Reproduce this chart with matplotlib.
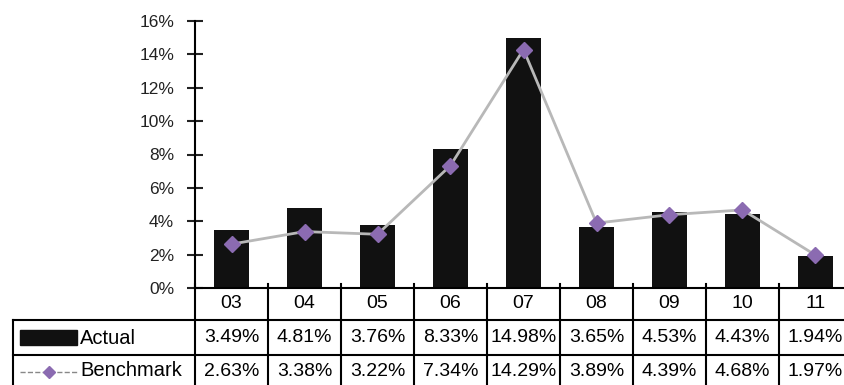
import matplotlib.pyplot as plt
import numpy as np
from matplotlib.lines import Line2D
from matplotlib.patches import Rectangle
from matplotlib.transforms import blended_transform_factory

years = ['03', '04', '05', '06', '07', '08', '09', '10', '11']
actual = [3.49, 4.81, 3.76, 8.33, 14.98, 3.65, 4.53, 4.43, 1.94]
benchmark = [2.63, 3.38, 3.22, 7.34, 14.29, 3.89, 4.39, 4.68, 1.97]
yticks = [0, 2, 4, 6, 8, 10, 12, 14, 16]

plt.rcParams['font.family'] = ['Liberation Sans', 'DejaVu Sans']

W, H = 844, 385


def fx(p):
    # pixel from left -> figure fraction
    return p / W


def fy(p):
    # pixel from top -> figure fraction
    return 1 - p / H


fig = plt.figure(figsize=(8.44, 3.85), dpi=100)
ax = fig.add_axes([fx(195), fy(288), fx(657), (288 - 21) / H])

x = np.arange(len(years))
ax.bar(x, actual, width=0.47, color='#111111', zorder=2)
ax.plot(x, benchmark, color='#b8b8b8', lw=2, marker='D', ms=8,
        mfc='#8b6bb1', mec='#8b6bb1', zorder=3)

ax.set_xlim(-0.5, len(years) - 0.5)
ax.set_ylim(0, 16)
ax.set_yticks(yticks)
ax.set_yticklabels([f'{v}%' for v in yticks])
ax.tick_params(axis='y', direction='inout', length=12, width=1.5,
               labelsize=12.5, pad=9, colors='#222222')
ax.set_xticks([])
for s in ['top', 'right']:
    ax.spines[s].set_visible(False)
ax.spines['left'].set_linewidth(1.5)
ax.spines['bottom'].set_linewidth(1.5)

# data table under the chart
trans = blended_transform_factory(ax.transData, fig.transFigure)
for i, yr in enumerate(years):
    ax.text(i, fy(303), yr, transform=trans, ha='center', va='center',
            fontsize=14, clip_on=False)
    ax.text(i, fy(338), f'{actual[i]:.2f}%', transform=trans, ha='center',
            va='center', fontsize=14, clip_on=False)
    ax.text(i, fy(371), f'{benchmark[i]:.2f}%', transform=trans, ha='center',
            va='center', fontsize=14, clip_on=False)

for b in np.arange(-0.5, len(years)):
    ax.add_line(Line2D([b, b], [fy(284), 0], transform=trans, color='black',
                       lw=1.5, clip_on=False))

for yp in [320, 355]:
    fig.add_artist(Line2D([fx(13), 1], [fy(yp), fy(yp)], color='black', lw=1.5))
fig.add_artist(Line2D([fx(13), fx(13)], [fy(320), 0], color='black', lw=1.5))

# legend cells
fig.add_artist(Rectangle((fx(20), fy(345)), fx(57), 15 / H, color='#111111'))
fig.text(fx(80), fy(338), 'Actual', ha='left', va='center', fontsize=14.5)
fig.add_artist(Line2D([fx(20), fx(77)], [fy(372), fy(372)], ls='--',
                      color='#888888', lw=1))
fig.add_artist(Line2D([fx(49)], [fy(372)], marker='D', ms=6, color='#8b6bb1'))
fig.text(fx(80), fy(371), 'Benchmark', ha='left', va='center', fontsize=14.5)

fig.savefig('out.png', dpi=100)
